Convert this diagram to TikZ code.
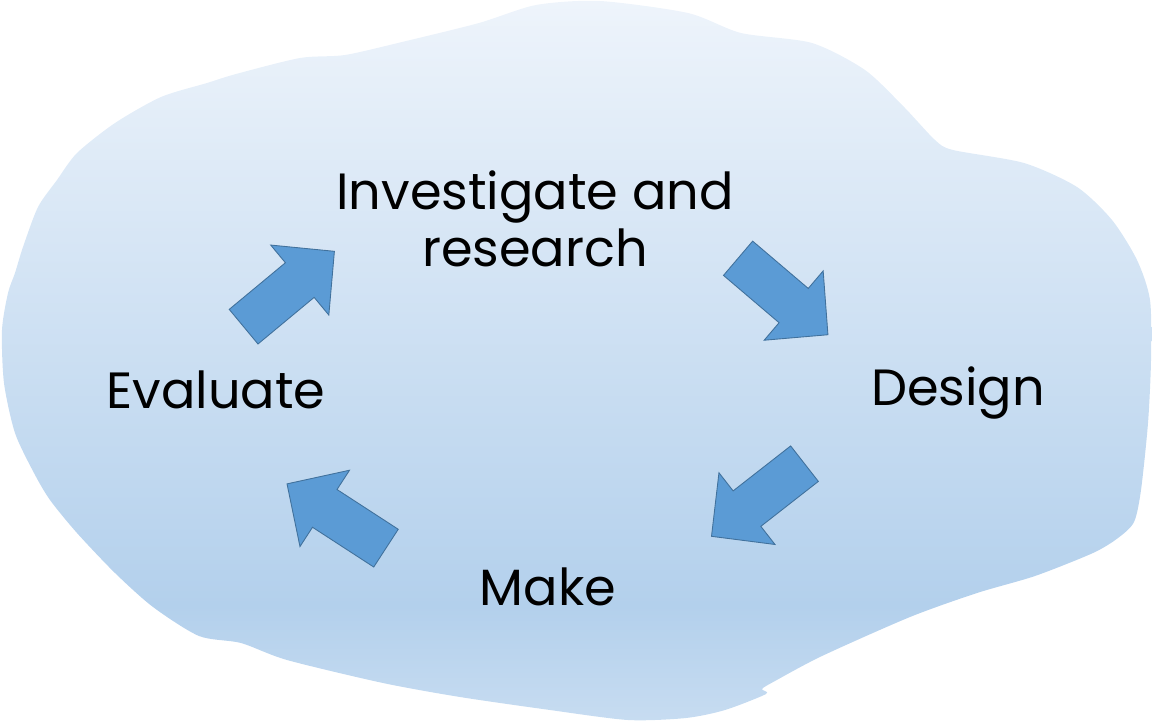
\documentclass[tikz,border=0pt]{standalone}
\usepackage{fontspec}
\setmainfont{Poppins}
\usepackage{tikz}
\usetikzlibrary{arrows}

\definecolor{blobtop}{RGB}{238,244,251}
\definecolor{blobdeep}{RGB}{179,208,236}
\definecolor{blobbot}{RGB}{199,220,241}
\definecolor{arrowfill}{RGB}{91,155,213}
\definecolor{arrowline}{RGB}{65,113,156}

\pgfdeclareverticalshading{blobshade}{100bp}{color(0bp)=(blobbot); color(25bp)=(blobbot); color(33bp)=(blobdeep); color(75bp)=(blobtop); color(100bp)=(blobtop)}

\begin{document}
\begin{tikzpicture}
    [x=0.02cm,y=-0.02cm,
      stage/.style={font=\fontsize{29}{32.4}\selectfont,inner sep=0pt,text=black,align=center},
      blockarrow/.style={fill=arrowfill,draw=arrowline,line width=0.5pt,line join=miter}]
      \useasboundingbox (0,0) rectangle (1152,723);

      % the cloud behind the cycle
      \shade[shading=blobshade] plot[smooth cycle,tension=0.45] coordinates {
	  (8,293) (15,273) (23,247) (38,207) (57,180) (77,153) (115,123) (161,97)
	  (207,83) (236,74) (300,58) (345,55) (402,42) (479,23) (536,5) (600,1)
	  (688,13) (741,33) (812,43) (865,70) (904,107) (935,140) (953,150)
	  (1024,163) (1077,187) (1112,220) (1137,260) (1150,300) (1151,360)
	  (1148,423) (1141,490) (1134,522) (1118,538) (1093,553) (1035,576)
	  (977,593) (910,617) (822,656) (775,681) (762,689) (766,694) (725,710)
	  (686,718) (628,720) (550,710) (460,697) (383,683) (287,660) (241,643)
	  (199,636) (153,607) (115,573) (77,533) (50,500) (34,473) (15,433)
	  (4,383) (2,330)};
      \draw[white,line width=1pt,line cap=round] (236,72) -- (297,53);

      \node[stage] (investigate) at (535,219) {Investigate and\\research};
      \node[stage,anchor=base] (design) at (958,405) {Design};
      \node[stage,anchor=base] (make) at (548,605) {Make};
      \node[stage,anchor=base] (evaluate) at (216,408) {Evaluate};

      \foreach \x/\y/\a in {289/289/39.7, 783/296.5/-40.4, 758/500/218, 336.5/516/147}
	\draw[blockarrow,shift={(\x,\y)},rotate=\a]
	  (-59,-22.5) -- (14,-22.5) -- (14,-45.5) -- (59,0) -- (14,45.5) -- (14,22.5) -- (-59,22.5) -- cycle;

    \end{tikzpicture}
\end{document}
